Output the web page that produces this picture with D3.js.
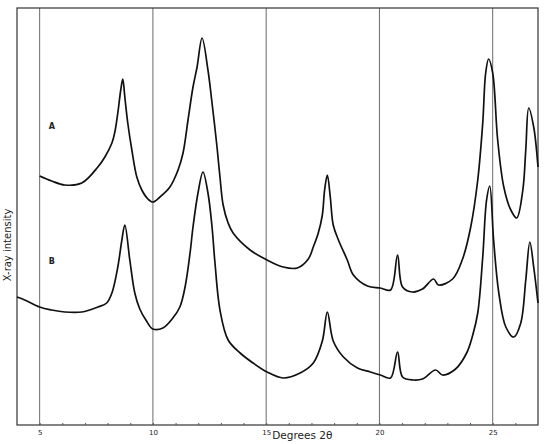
<!DOCTYPE html>
<html>
<head>
<meta charset="utf-8">
<script src="https://cdn.jsdelivr.net/npm/d3@7"></script>
<style>
  body { margin: 0; background: #fff; }
  text { font-family: "DejaVu Sans", sans-serif; fill: #222; }
</style>
</head>
<body>
<div id="chart"></div>
<script>
// diffractometer traces (2θ in degrees, intensity in arbitrary units)
const degreesA = [5.00, 5.53, 6.11, 6.86, 7.57, 7.88, 8.19, 8.32, 8.45, 8.58, 8.67, 8.76, 8.89, 9.07, 9.29, 9.51, 9.78,
  10.00, 10.31, 10.75, 11.11, 11.33, 11.55, 11.77, 11.95, 12.17, 12.43, 12.61, 12.83, 12.96, 13.10, 13.32, 13.54,
  14.29, 15.04, 15.75, 16.37, 16.86, 17.08, 17.30, 17.48, 17.58, 17.70, 17.83, 17.96, 18.19, 18.58, 18.85, 19.47,
  20.04, 20.49, 20.80, 21.02, 21.46, 21.90, 22.39, 22.61, 23.23, 23.67, 24.03, 24.34, 24.56, 24.69, 24.82, 25.00,
  25.22, 25.49, 25.80, 26.06, 26.33, 26.46, 26.59, 26.81, 27.00];
const intensityA = [249, 244, 240, 242, 258, 268, 282, 293, 312, 335, 346, 328, 302, 275, 248, 235, 226,
  223, 228, 238, 255, 272, 305, 338, 358, 387, 355, 322, 278, 248, 220, 202, 192,
  175, 165, 158, 157, 166, 178, 192, 210, 235, 250, 228, 200, 185, 165, 150, 139,
  137, 135, 170, 138, 133, 136, 146, 140, 146, 166, 198, 245, 302, 352, 366, 352,
  285, 238, 215, 207, 235, 275, 317, 298, 258];

const degreesB = [4.00, 4.34, 5.00, 5.53, 6.11, 6.86, 7.57, 7.96, 8.19, 8.45, 8.63, 8.76, 8.98, 9.20, 9.42, 9.69,
  10.00, 10.44, 10.88, 11.19, 11.42, 11.64, 11.77, 11.99, 12.21, 12.43, 12.61, 12.74, 12.96, 13.32, 13.85,
  14.42, 15.04, 15.75, 16.50, 17.08, 17.48, 17.70, 17.96, 18.41, 19.03, 19.60,
  20.04, 20.49, 20.80, 21.02, 21.50, 21.90, 22.48, 22.79, 23.36, 23.85, 24.12, 24.34, 24.56, 24.73, 24.87,
  25.04, 25.27, 25.58, 25.93, 26.24, 26.46, 26.64, 26.81, 27.00];
const intensityB = [128, 125, 118, 115, 113, 113, 118, 122, 132, 158, 185, 200, 165, 132, 116, 105,
  96, 97, 107, 118, 138, 172, 198, 232, 253, 232, 198, 162, 115, 85, 72,
  62, 53, 47, 52, 62, 84, 113, 84, 68, 57, 53,
  50, 47, 73, 48, 45, 46, 55, 50, 56, 72, 90, 112, 168, 225, 239,
  185, 132, 98, 88, 102, 145, 183, 158, 122];

const gridDegrees = [5, 10, 15, 20, 25];
const tickLabels = ["5", "10", "15", "20", "25"];
const traceLabels = [{ name: "A", deg: 5.4, val: 296 }, { name: "B", deg: 5.4, val: 161 }];

const width = 550, height = 444;
const margin = { top: 8, right: 12, bottom: 19, left: 17 };

const svg = d3.select("#chart").append("svg")
  .attr("width", width)
  .attr("height", height);

const x = d3.scaleLinear().domain([4, 27]).range([margin.left, width - margin.right]);
const y = d3.scaleLinear().domain([0, 417]).range([height - margin.bottom, margin.top]);

// vertical reference lines
svg.append("g")
  .selectAll("line")
  .data(gridDegrees)
  .join("line")
  .attr("x1", d => x(d)).attr("x2", d => x(d))
  .attr("y1", y(417)).attr("y2", y(0))
  .attr("stroke", "#6a6a6a")
  .attr("stroke-width", 1);

// frame
svg.append("rect")
  .attr("x", x(4)).attr("y", y(417))
  .attr("width", x(27) - x(4))
  .attr("height", y(0) - y(417))
  .attr("fill", "none")
  .attr("stroke", "#333")
  .attr("stroke-width", 1.2);

// bottom axis, labels only
const xAxis = svg.append("g")
  .attr("transform", `translate(0,${y(0)})`)
  .call(d3.axisBottom(x).tickValues(gridDegrees).tickFormat((d, i) => tickLabels[i]).tickSize(0).tickPadding(5));
xAxis.select(".domain").remove();
xAxis.selectAll("text").style("font-size", "7px").attr("fill", "#222");

// small minor marks on the base line
svg.append("g")
  .attr("transform", `translate(0,${y(0)})`)
  .call(d3.axisBottom(x).tickValues(d3.range(5, 27, 1)).tickFormat("").tickSizeInner(-2).tickSizeOuter(0))
  .call(g => g.select(".domain").remove())
  .selectAll("line").attr("stroke", "#555");

svg.append("text")
  .attr("x", x(15) + 6)
  .attr("y", 439)
  .style("font-size", "10.5px")
  .text("Degrees 2θ");

svg.append("text")
  .attr("transform", `translate(11,${245}) rotate(-90)`)
  .attr("text-anchor", "middle")
  .style("font-size", "10px")
  .text("X-ray intensity");

svg.selectAll(".trace-label")
  .data(traceLabels)
  .join("text")
  .attr("class", "trace-label")
  .attr("x", d => x(d.deg))
  .attr("y", d => y(d.val))
  .style("font-size", "8px")
  .style("font-weight", "bold")
  .text(d => d.name);

const line = d3.line()
  .x(d => x(d[0]))
  .y(d => y(d[1]))
  .curve(d3.curveCatmullRom.alpha(0.5));

const seriesA = degreesA.map((d, i) => [d, intensityA[i]]);
const seriesB = degreesB.map((d, i) => [d, intensityB[i]]);

svg.selectAll(".trace")
  .data([seriesA, seriesB])
  .join("path")
  .attr("class", "trace")
  .attr("d", line)
  .attr("fill", "none")
  .attr("stroke", "#111")
  .attr("stroke-width", 1.7)
  .attr("stroke-linejoin", "round");
</script>
</body>
</html>
